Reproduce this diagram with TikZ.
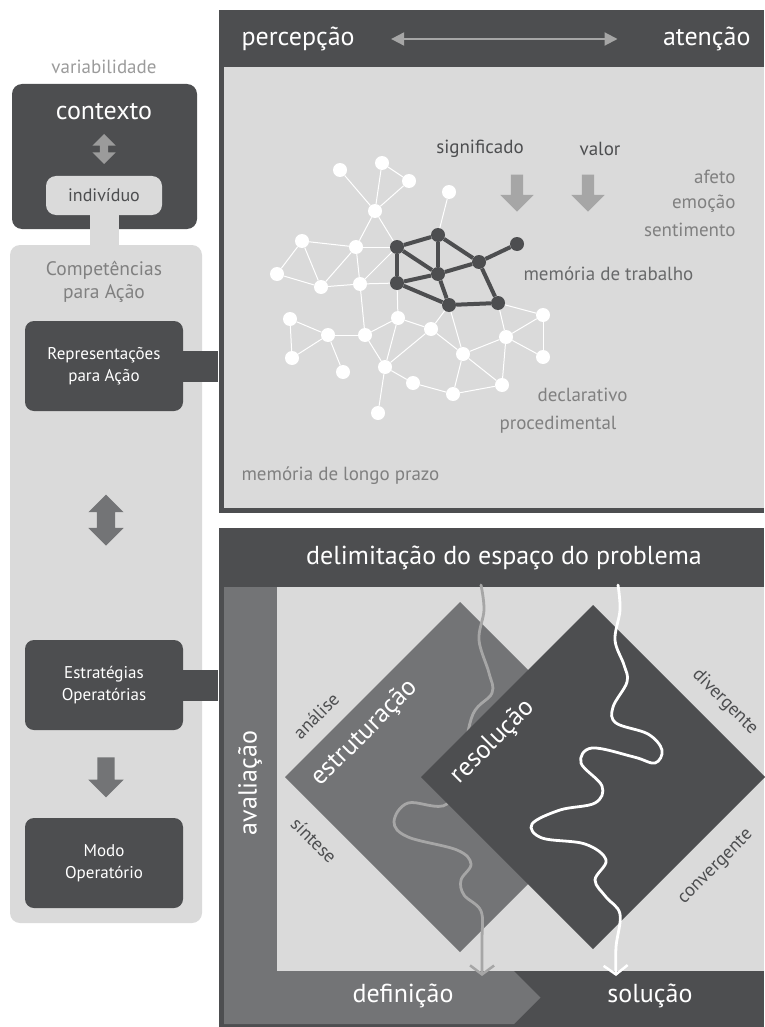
\documentclass[tikz,border=0pt]{standalone}
\usepackage{fontspec}
\setmainfont{PT Sans}
\usetikzlibrary{arrows.meta,shapes.arrows,positioning}
\definecolor{escuro}{RGB}{77,78,80}
\definecolor{claro}{RGB}{218,218,218}
\definecolor{medio}{RGB}{115,116,118}
\definecolor{cinzaseta}{RGB}{166,166,166}
\definecolor{textogr}{RGB}{128,128,128}
\definecolor{suave}{RGB}{155,155,155}
\newcommand{\tam}[2]{\fontsize{#1}{#2}\selectfont}
\tikzset{
caixa/.style={rectangle,rounded corners=9pt,fill=escuro,text=white,align=center,
  minimum width=158pt,minimum height=90pt,inner sep=0pt,font=\tam{17}{22}},
ligacao/.style={fill=escuro,inner sep=0pt,minimum width=37pt,minimum height=31pt},
no branco/.style={circle,fill=white,inner sep=0pt,minimum size=14pt},
no escuro/.style={circle,fill=escuro,inner sep=0pt,minimum size=14pt},
aresta/.style={white,line width=1pt},
aresta forte/.style={escuro,line width=4pt},
bloco/.style={single arrow,fill=#1,inner sep=0pt,minimum width=0pt},
bloco duplo/.style={double arrow,fill=#1,inner sep=0pt,minimum width=0pt},
onda/.style={line width=2.8pt,line cap=round,-{Straight Barb[length=9pt,width=24pt,line width=2.5pt]}},
rotulo/.style={font=\tam{18.5}{20},text=escuro},
legenda/.style={font=\tam{19}{22},text=textogr},
titulo/.style={font=\tam{26}{28},text=white}
}

\begin{document}
\begin{tikzpicture}[x=1pt,y=-1pt]
\useasboundingbox (0,0) rectangle (764,1027);

% coluna da esquerda
\node[text=suave,font=\tam{19}{22}] (varia) at (104,67) {variabilidade};
\node[rectangle,rounded corners=10pt,fill=escuro,minimum width=185pt,minimum height=145pt] (contexto) at (104.5,156.5) {};
\node[titulo] (ctxtexto) at (104,112) {contexto};
\node[bloco duplo=suave,minimum height=30pt,inner ysep=4pt,double arrow head extend=7.5pt,rotate=90] (vaivem) at (104,149) {};
\node[fill=claro,minimum width=29pt,minimum height=34pt,inner sep=0pt] (pescoco) at (104.5,230) {};
\node[rectangle,rounded corners=10pt,fill=claro,text=escuro,minimum width=116pt,minimum height=39pt,font=\tam{18}{20}] (indiv) at (104,195.5) {indivíduo};
\node[rectangle,rounded corners=10pt,fill=claro,minimum width=192pt,minimum height=678pt] (compet) at (106,584) {};
\node[text=textogr,align=center,font=\tam{19.5}{22.5}] (comptexto) at (104,282) {Competências\\para Ação};

\node[caixa] (repr) at (104,366) {Representações\\para Ação};
\node[caixa] (estrat) at (104,685) {Estratégias\\Operatórias};
\node[caixa] (modo) at (104,863) {Modo\\Operatório};
\node[ligacao,anchor=west] (barra1) at ([xshift=-2pt]repr.east) {};
\node[ligacao,anchor=west] (barra2) at ([xshift=-2pt]estrat.east) {};
\node[bloco duplo=medio,minimum height=51pt,inner ysep=9pt,double arrow head extend=8.5pt,rotate=90] (troca) at (106,520) {};
\node[bloco=medio,minimum height=40pt,inner ysep=8.5pt,single arrow head extend=9pt,rotate=-90] (desce) at (106,773) {};

% painel de cima
\fill[escuro] (219,10) rectangle (764,513);
\fill[claro] (224,67) rectangle (764,508);
\node[titulo,anchor=west] (perc) at (238,39) {percepção};
\node[titulo,anchor=east] (aten) at (754,39) {atenção};
\draw[cinzaseta,line width=2pt,{Triangle[length=13pt,width=13pt]}-{Triangle[length=13pt,width=13pt]},
  shorten <=33pt,shorten >=42pt] (perc.east) -- (perc.east -| aten.west);

\node[text=escuro,font=\tam{19}{22}] (signif) at (480,149) {significado};
\node[text=escuro,font=\tam{19}{22}] (valor) at (600,149) {valor};
\node[bloco=cinzaseta,minimum height=37pt,inner ysep=6pt,single arrow head extend=10.5pt,rotate=-90] (seta1) at (517,190) {};
\node[bloco=cinzaseta,minimum height=37pt,inner ysep=6pt,single arrow head extend=10.5pt,rotate=-90] (seta2) at (588,190) {};
\node[legenda,anchor=east] (afeto) at (739,177) {afeto};
\node[legenda,anchor=east] (emocao) at (739,204) {emoção};
\node[legenda,anchor=east] (sentim) at (739,230) {sentimento};
\node[legenda,text=escuro!85!white,anchor=west] (trab) at (520,274) {memória de trabalho};
\node[legenda,anchor=east] (decl) at (631,395) {declarativo};
\node[legenda,anchor=east] (proc) at (620,425) {procedimental};
\node[legenda,anchor=west] (longo) at (238,476) {memória de longo prazo};

% rede
\foreach \nome/\x/\y in {w1/340/170,w2/382/163,w3/409/181,w4/375/211,w5/449/192,w6/302/241,
  w7/356/247,w8/277/274,w9/321/287,w10/360/284,w11/290/319,w12/328/335,w13/365/335,
  w14/398/318,w15/431/329,w16/292/358,w17/343/372,w18/385/367,w19/413/383,w20/453/394,
  w21/463/354,w22/502/385,w23/506/337,w24/543/315,w25/543/357,w26/378/413}
  \node[no branco] (\nome) at (\x,\y) {};
\foreach \nome/\x/\y in {d1/397/247,d2/438/235,d3/517/244,d4/479/262,d5/397/283,d6/438/274,d7/449/305,d8/498/303}
  \node[no escuro] (\nome) at (\x,\y) {};
\foreach \a/\b in {w1/w4,w2/w4,w2/w3,w3/w4,w4/w7,w4/d1,w5/d2,w6/w7,w6/w8,w6/w9,w8/w9,w9/w10,
  w7/d1,w7/w9,w7/w10,w10/d1,w10/d5,w10/w13,w11/w12,w11/w16,w16/w12,w12/w13,w12/w17,w13/w14,
  w13/w18,w14/d5,w14/w18,w14/w15,w15/d7,w15/w18,w15/w21,w18/w19,w18/w26,w19/w20,w20/w21,
  w20/w22,w21/w22,w21/w23,w21/d7,w23/d8,w23/w22,w23/w24,w23/w25,w24/w25,w24/d8}
  \draw[aresta] (\a) -- (\b);
\foreach \a/\b in {d1/d2,d1/d5,d1/d6,d2/d6,d2/d4,d4/d3,d5/d6,d6/d4,d6/d7,d5/d7,d7/d8,d4/d8}
  \draw[aresta forte] (\a) -- (\b);

% painel de baixo
\fill[escuro] (219,528) rectangle (764,1027);
\fill[claro] (277,587) rectangle (764,971);
\fill[medio] (224,587) rectangle (277,1024);
\fill[medio] (224,971) -- (514,971) -- (540.5,997.5) -- (514,1024) -- (224,1024) -- cycle;
\node[titulo] (delim) at (504,558) {delimitação do espaço do problema};
\node[titulo,rotate=90] (aval) at (250,783) {avaliação};
\node[titulo] (defin) at (403,996) {definição};
\node[titulo] (solu) at (650,996) {solução};

\fill[medio] (460,602) -- (635,777) -- (460,952) -- (285,777) -- cycle;
\coordinate (ini cinza) at (481,585);
\coordinate (fim cinza) at (482,976);
\draw[onda,cinzaseta] plot[smooth,tension=0.6] coordinates {(ini cinza) (484,610) (479,640) (489,673)
  (492,693) (473,714) (462,760) (447,804) (408,803) (394,822) (408,837) (457,850) (471,864)
  (461,880) (464,895) (481,911) (482,940) (fim cinza)};
\fill[escuro] (593,605) -- (765,777) -- (593,949) -- (421,777) -- cycle;
\coordinate (ini branco) at (618,585);
\coordinate (fim branco) at (616,976);
\draw[onda,white] plot[smooth,tension=0.6] coordinates {(ini branco) (620,610) (615,640) (624,665)
  (627,682) (613,707) (616,723) (648,734) (662,750) (655,763) (634,757) (592,748) (581,763)
  (602,786) (595,803) (560,810) (532,824) (542,838) (585,844) (606,860) (595,880) (606,897)
  (620,914) (616,947) (fim branco)};

\node[rotulo,rotate=45] (anal) at (316,716) {análise};
\node[rotulo,rotate=-45] (sint) at (314,840) {síntese};
\node[titulo,rotate=45] (estrut) at (365,733) {estruturação};
\node[titulo,rotate=45] (resol) at (493,742) {resolução};
\node[rotulo,rotate=-45] (diverg) at (725,702) {divergente};
\node[rotulo,rotate=45] (converg) at (716,867) {convergente};
\end{tikzpicture}
\end{document}
